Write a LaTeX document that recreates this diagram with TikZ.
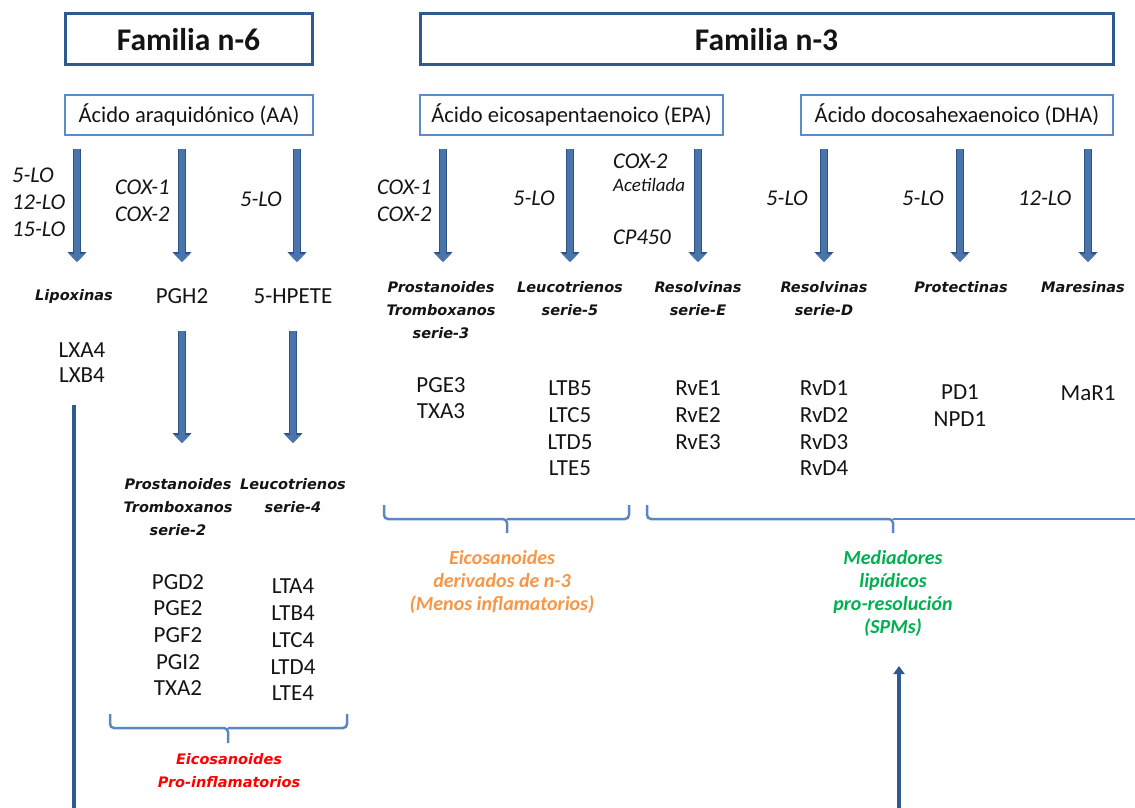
\documentclass[tikz,border=0pt]{standalone}
\usepackage{fontspec}
\setmainfont{Carlito}
\newfontfamily\verd{DejaVu Sans}
\usetikzlibrary{arrows.meta}
\definecolor{darkb}{HTML}{2F5A8F}
\definecolor{lightb}{HTML}{5B8BC9}
\definecolor{arrin}{HTML}{4A74AC}
\definecolor{arrout}{HTML}{2C5585}
\definecolor{bracec}{HTML}{5A87C4}
\definecolor{orng}{HTML}{F79646}
\definecolor{grn}{HTML}{00B050}
\definecolor{txt}{HTML}{141414}
\begin{document}
\begin{tikzpicture}[x=1pt,y=-1pt,
  fambox/.style={draw=darkb, line width=3pt, minimum height=51pt, inner sep=0pt,
    text=txt, font=\fontsize{31.5}{34}\selectfont\bfseries},
  acidbox/.style={draw=lightb, line width=2.5pt, minimum height=40pt, inner sep=0pt,
    text=txt, font=\fontsize{22.5}{25}\selectfont},
  enz/.style={anchor=west, align=left, inner sep=0pt, text=txt,
    font=\fontsize{22.5}{27}\selectfont\itshape},
  grp/.style={align=center, inner sep=0pt, text=txt,
    font=\verd\fontsize{14.5}{23}\selectfont\bfseries\itshape},
  val/.style={align=center, inner sep=0pt, text=txt,
    font=\fontsize{23}{26.7}\selectfont},
  bigarrow/.style={draw=arrin, line width=6pt, -{Triangle[width=15pt,length=8pt]},
    preaction={draw=arrout, line width=8.5pt, -{Triangle[width=18.5pt,length=10pt]}}},
  bracepath/.style={draw=bracec, line width=2.5pt, rounded corners=4pt},
  note/.style={align=center, inner sep=0pt,
    font=\fontsize{20}{23}\selectfont\bfseries\itshape}
]
\useasboundingbox (0,0) rectangle (1135,808);

% family headers
\node[fambox, minimum width=247pt] (fam6) at (188.5,39.5) {Familia n-6};
\node[fambox, minimum width=693pt] (fam3) at (766.5,39.5) {Familia n-3};

% acid boxes
\node[acidbox, minimum width=248pt] (aa) at (189,115) {Ácido araquidónico (AA)};
\node[acidbox, minimum width=303pt] (epa) at (571.5,115) {Ácido eicosapentaenoico (EPA)};
\node[acidbox, minimum width=312pt] (dha) at (957,115) {Ácido docosahexaenoico (DHA)};

% level-1 arrows
\foreach \n/\x in {a1/77,a2/182,a3/297,e1/443,e2/570,e3/698,d1/824,d2/960,d3/1088}{
  \coordinate (\n s) at (\x,149);
  \coordinate (\n e) at (\x,262);
  \draw[bigarrow] (\n s) -- (\n e);
}

% enzyme labels
\node[enz] (lo1) at (12,202) {5-LO\\12-LO\\15-LO};
\node[enz] (cox1) at (115,201) {COX-1\\COX-2};
\node[enz] (lo2) at (240,199) {5-LO};
\node[enz] (cox2) at (377,201) {COX-1\\COX-2};
\node[enz] (lo3) at (513,198) {5-LO};
\node[enz] (coxac) at (613,161) {COX-2};
\node[enz, font=\fontsize{19}{21}\selectfont\itshape] (acet) at (613,185) {Acetilada};
\node[enz] (cp) at (613,237) {CP450};
\node[enz] (lo4) at (766,198) {5-LO};
\node[enz] (lo5) at (902,198) {5-LO};
\node[enz] (lo6) at (1018,198) {12-LO};

% level-2 group labels
\node[grp] (lipox) at (74,296) {Lipoxinas};
\node[val] (pgh2) at (182,296) {PGH2};
\node[val] (hpete) at (293,296) {5-HPETE};
\node[grp] (pt3) at (441,310) {Prostanoides\\Tromboxanos\\serie-3};
\node[grp] (lt5) at (570,298.5) {Leucotrienos\\serie-5};
\node[grp] (rve) at (698,298.5) {Resolvinas\\serie-E};
\node[grp] (rvd) at (824,298.5) {Resolvinas\\serie-D};
\node[grp] (prot) at (961,287) {Protectinas};
\node[grp] (mares) at (1083,287) {Maresinas};

% values
\node[val, font=\fontsize{23}{25}\selectfont] (lx) at (82,362.5) {LXA4\\LXB4};
\node[val] (v3) at (441,398) {PGE3\\TXA3};
\node[val] (v5) at (570,428.5) {LTB5\\LTC5\\LTD5\\LTE5};
\node[val] (vE) at (698,415) {RvE1\\RvE2\\RvE3};
\node[val] (vD) at (824,428.5) {RvD1\\RvD2\\RvD3\\RvD4};
\node[val] (vP) at (960,405.5) {PD1\\NPD1};
\node[val] (vM) at (1088,393) {MaR1};

% level-2 arrows
\coordinate (b1s) at (182,331); \coordinate (b1e) at (182,443);
\coordinate (b2s) at (293,331); \coordinate (b2e) at (293,443);
\draw[bigarrow] (b1s) -- (b1e);
\draw[bigarrow] (b2s) -- (b2e);

% lower left groups
\node[grp] (pt2) at (178,507) {Prostanoides\\Tromboxanos\\serie-2};
\node[grp] (lt4) at (293,495.5) {Leucotrienos\\serie-4};
\node[val] (v2) at (178,635) {PGD2\\PGE2\\PGF2\\PGI2\\TXA2};
\node[val] (v4) at (293,640) {LTA4\\LTB4\\LTC4\\LTD4\\LTE4};

% braces
\draw[bracepath] (110,714) -- (110,728) -- (228,728) -- (228,743);
\draw[bracepath] (347,714) -- (347,728) -- (228,728);
\draw[bracepath] (384,505) -- (384,519) -- (507,519) -- (507,533);
\draw[bracepath] (629,505) -- (629,519) -- (507,519);
\draw[bracepath] (647,505) -- (647,519) -- (893,519) -- (893,533);
\draw[bracepath] (1140,519) -- (893,519);

% notes
\node[grp, text=red] (proinf) at (229,770.5) {Eicosanoides\\Pro-inflamatorios};
\node[note, text=orng] (menos) at (502,582) {Eicosanoides\\derivados de n-3\\(Menos inflamatorios)};
\node[note, text=grn] (spm) at (893,593.5) {Mediadores\\lipídicos\\pro-resolución\\(SPMs)};

% long lines
\coordinate (lxs) at (74,405); \coordinate (lxe) at (74,808);
\draw[darkb, line width=4pt] (lxs) -- (lxe);
\coordinate (ups) at (899,808); \coordinate (upe) at (899,666);
\draw[darkb, line width=3.5pt, -{Triangle[width=11pt,length=8pt]}] (ups) -- (upe);
\end{tikzpicture}
\end{document}
